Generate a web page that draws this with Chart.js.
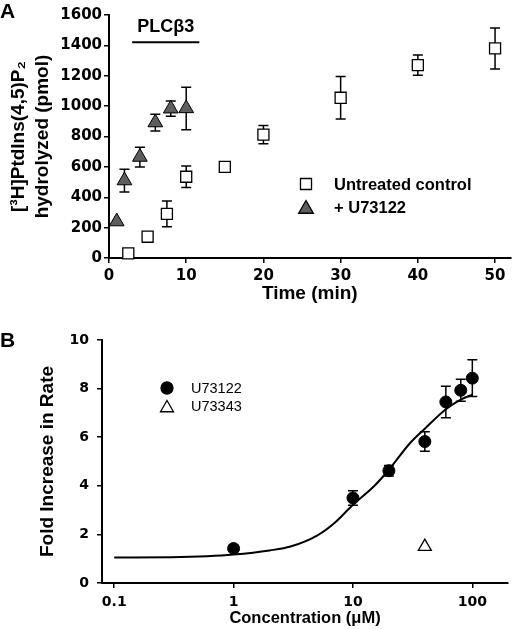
<!DOCTYPE html>
<html>
<head>
<meta charset="utf-8">
<script src="https://cdn.jsdelivr.net/npm/chart.js@4.4.0/dist/chart.umd.min.js"></script>
<style>
  body { margin: 0; background: #fff; }
  #wrap { position: relative; width: 520px; height: 629px; }
  canvas { position: absolute; left: 0; }
</style>
</head>
<body>
<div id="wrap">
  <canvas id="chartA" width="520" height="305" style="top:0"></canvas>
  <canvas id="chartB" width="520" height="324" style="top:305px"></canvas>
</div>
<script>
// panel A - PIP2 hydrolysis over time
const timeControl = [2.5, 5, 7.5, 10, 15, 20, 30, 40, 50];
const pmolControl = [30, 140, 290, 535, 600, 812, 1055, 1270, 1380];
const errControl = [0, 0, 85, 70, 0, 60, 140, 67, 135];
const timeU73122 = [1, 2, 4, 6, 8, 10];
const pmolU73122 = [240, 510, 665, 892, 983, 985];
const errU73122 = [0, 75, 65, 55, 50, 140];
const timeTicks = [0, 10, 20, 30, 40, 50];
const pmolTicks = [0, 200, 400, 600, 800, 1000, 1200, 1400, 1600];
const plcBar = [3, 11.7]; // time range of the PLCb3 bar
const plcBarLevel = 1420;

// panel B - dose response
const concU73122 = [1, 10, 20, 40, 60, 80, 100];
const foldU73122 = [1.42, 3.5, 4.62, 5.82, 7.45, 7.93, 8.43];
const errFold = [0.12, 0.3, 0.22, 0.4, 0.65, 0.45, 0.76];
const concU73343 = [40];
const foldU73343 = [1.5];
const fitConc = [0.1, 0.3, 0.6, 1, 2, 3, 5, 7, 10, 15, 20, 30, 40, 60, 80, 100];
const fitFold = [1.05, 1.06, 1.1, 1.17, 1.34, 1.5, 1.95, 2.47, 3.22, 3.98, 4.66, 5.75, 6.35, 7.15, 7.55, 7.75];
const concTicks = [0.1, 1, 10, 100];
const foldTicks = [0, 2, 4, 6, 8, 10];

const SANS = "'Liberation Sans', Arial, sans-serif";
const TICKFONT = "'DejaVu Sans', sans-serif";

const pts = (xs, ys) => xs.map((x, i) => ({ x: x, y: ys[i] }));

const errorBars = {
  id: 'errorBars',
  beforeDatasetsDraw(chart) {
    const { ctx, scales: { x, y } } = chart;
    ctx.save();
    ctx.strokeStyle = '#000';
    ctx.lineWidth = 1.5;
    chart.data.datasets.forEach(ds => {
      if (!ds.errors) return;
      ds.data.forEach((p, i) => {
        const e = ds.errors[i];
        if (!e) return;
        const px = x.getPixelForValue(p.x);
        const top = y.getPixelForValue(p.y + e);
        const bot = y.getPixelForValue(p.y - e);
        ctx.beginPath();
        ctx.moveTo(px, top); ctx.lineTo(px, bot);
        ctx.moveTo(px - 5, top); ctx.lineTo(px + 5, top);
        ctx.moveTo(px - 5, bot); ctx.lineTo(px + 5, bot);
        ctx.stroke();
      });
    });
    ctx.restore();
  }
};

function marker(ctx, style, x, y, r, fill) {
  ctx.save();
  ctx.fillStyle = fill;
  ctx.strokeStyle = '#000';
  ctx.lineWidth = 1.3;
  ctx.beginPath();
  if (style === 'rect') {
    const s = r * Math.SQRT1_2;
    ctx.rect(x - s, y - s, 2 * s, 2 * s);
  } else if (style === 'triangle') {
    ctx.moveTo(x, y - r);
    ctx.lineTo(x + r * 0.866, y + r / 2);
    ctx.lineTo(x - r * 0.866, y + r / 2);
    ctx.closePath();
  } else {
    ctx.arc(x, y, r, 0, Math.PI * 2);
  }
  ctx.fill();
  ctx.stroke();
  ctx.restore();
}

function axisCommon(tickFont, pad) {
  return {
    grid: { drawOnChartArea: false, color: '#000', tickLength: 5, lineWidth: 1.5 },
    border: { color: '#000', width: 2 },
    ticks: { color: '#000', font: tickFont, padding: pad, maxRotation: 0, autoSkip: false,
      callback: v => String(v) }
  };
}

const panelA = {
  id: 'panelA',
  afterDraw(chart) {
    const { ctx, scales: { x, y } } = chart;
    ctx.save();
    ctx.fillStyle = '#000';
    ctx.font = 'bold 21px ' + SANS;
    ctx.textBaseline = 'middle';
    ctx.textAlign = 'left';
    ctx.fillText('A', 0, 12);
    // PLCb3 label and bar
    const x0 = x.getPixelForValue(plcBar[0]), x1 = x.getPixelForValue(plcBar[1]);
    const yb = y.getPixelForValue(plcBarLevel);
    ctx.font = 'bold 18px ' + SANS;
    ctx.textAlign = 'center';
    ctx.fillText('PLCβ3', (x0 + x1) / 2, yb - 15);
    ctx.lineWidth = 2;
    ctx.strokeStyle = '#000';
    ctx.beginPath(); ctx.moveTo(x0, yb); ctx.lineTo(x1, yb); ctx.stroke();
    // legend
    marker(ctx, 'rect', 306, 184, 7.8, '#fff');
    marker(ctx, 'triangle', 306, 209, 8.5, '#5e5e5e');
    ctx.textAlign = 'left';
    ctx.font = 'bold 16.5px ' + SANS;
    ctx.fillText('Untreated control', 334, 185);
    ctx.fillText('+ U73122', 334, 208);
    ctx.restore();
  }
};

const panelB = {
  id: 'panelB',
  afterDraw(chart) {
    const { ctx } = chart;
    ctx.save();
    ctx.fillStyle = '#000';
    ctx.font = 'bold 21px ' + SANS;
    ctx.textBaseline = 'middle';
    ctx.fillText('B', 0, 36);
    marker(ctx, 'circle', 167, 83, 6, '#000');
    marker(ctx, 'triangle', 167, 103, 7.5, '#fff');
    ctx.font = '14.5px ' + SANS;
    ctx.fillText('U73122', 191, 84);
    ctx.fillText('U73343', 191, 102);
    ctx.restore();
  }
};

const xA = axisCommon({ family: TICKFONT, size: 15, weight: 'bold' }, 4);
const yA = axisCommon({ family: TICKFONT, size: 15, weight: 'bold' }, 2);

new Chart(document.getElementById('chartA'), {
  type: 'scatter',
  data: {
    datasets: [
      {
        label: 'Untreated control',
        data: pts(timeControl, pmolControl),
        errors: errControl,
        pointStyle: 'rect', pointRadius: 7.8,
        backgroundColor: '#fff', borderColor: '#000', borderWidth: 1.3,
        clip: false
      },
      {
        label: '+ U73122',
        data: pts(timeU73122, pmolU73122),
        errors: errU73122,
        pointStyle: 'triangle', pointRadius: 8.5,
        backgroundColor: '#5e5e5e', borderColor: '#000', borderWidth: 1,
        clip: false
      }
    ]
  },
  options: {
    responsive: false, animation: false, events: [],
    layout: { padding: { top: 15, right: 2, left: 0, bottom: 0 } },
    plugins: { legend: { display: false }, tooltip: { enabled: false } },
    scales: {
      x: Object.assign(xA, {
        type: 'linear', min: 0, max: 52,
        afterBuildTicks: s => { s.ticks = timeTicks.map(v => ({ value: v })); },
        afterFit: s => { s.height = 47; },
        title: { display: true, text: 'Time (min)', color: '#000',
          font: { family: SANS, size: 19, weight: 'bold', lineHeight: 1.2 }, padding: { top: 0, bottom: 0 } }
      }),
      y: Object.assign(yA, {
        type: 'linear', min: 0, max: 1600,
        afterBuildTicks: s => { s.ticks = pmolTicks.map(v => ({ value: v })); },
        afterFit: s => { s.width = 109; },
        title: { display: true, text: ['[³H]PtdIns(4,5)P₂', 'hydrolyzed (pmol)'], color: '#000',
          font: { family: SANS, size: 19, weight: 'bold', lineHeight: 1.25 }, padding: { top: 7, bottom: 0 } }
      })
    }
  },
  plugins: [errorBars, panelA]
});

const xB = axisCommon({ family: TICKFONT, size: 14, weight: 'bold' }, 6);
const yB = axisCommon({ family: TICKFONT, size: 14, weight: 'bold' }, 8);

new Chart(document.getElementById('chartB'), {
  type: 'scatter',
  data: {
    datasets: [
      {
        label: 'U73122',
        data: pts(concU73122, foldU73122),
        errors: errFold,
        pointStyle: 'circle', pointRadius: 6,
        backgroundColor: '#000', borderColor: '#000', borderWidth: 1,
        clip: false, order: 0
      },
      {
        label: 'U73343',
        data: pts(concU73343, foldU73343),
        pointStyle: 'triangle', pointRadius: 7.5,
        backgroundColor: '#fff', borderColor: '#000', borderWidth: 1.3,
        clip: false, order: 1
      },
      {
        type: 'line',
        label: 'fit',
        data: pts(fitConc, fitFold),
        borderColor: '#000', borderWidth: 2, pointRadius: 0,
        cubicInterpolationMode: 'monotone', fill: false,
        clip: false, order: 2
      }
    ]
  },
  options: {
    responsive: false, animation: false, events: [],
    layout: { padding: { top: 35, right: 12, left: 0, bottom: 0 } },
    plugins: { legend: { display: false }, tooltip: { enabled: false } },
    scales: {
      x: Object.assign(xB, {
        type: 'logarithmic', min: 0.079, max: 199,
        afterBuildTicks: s => { s.ticks = concTicks.map(v => ({ value: v })); },
        afterFit: s => { s.height = 46; },
        title: { display: true, text: 'Concentration (μM)', color: '#000',
          font: { family: SANS, size: 16.5, weight: 'bold', lineHeight: 1.2 }, padding: { top: 0, bottom: 1 } }
      }),
      y: Object.assign(yB, {
        type: 'linear', min: 0, max: 10,
        afterBuildTicks: s => { s.ticks = foldTicks.map(v => ({ value: v })); },
        afterFit: s => { s.width = 102; },
        title: { display: true, text: 'Fold Increase in Rate', color: '#000',
          font: { family: SANS, size: 19, weight: 'bold', lineHeight: 1.2 }, padding: { top: 36, bottom: 0 } }
      })
    }
  },
  plugins: [errorBars, panelB]
});
</script>
</body>
</html>
